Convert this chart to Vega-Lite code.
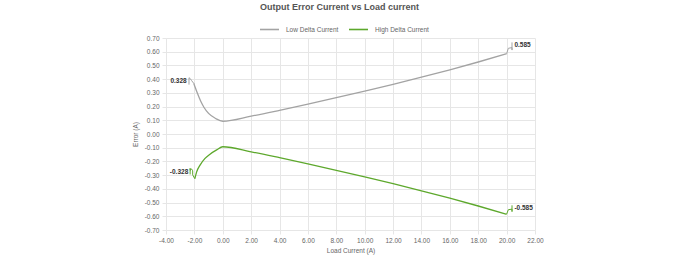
{
  "$schema": "https://vega.github.io/schema/vega-lite/v6.json",
  "width": 369,
  "height": 192,
  "autosize": {"type": "none"},
  "padding": {"left": 166, "top": 38, "right": 145, "bottom": 30},
  "background": "white",
  "config": {
    "font": "Liberation Sans",
    "locale": {"number": {"decimal": ".", "thousands": ",", "grouping": [3], "currency": ["$", ""], "minus": "-"}},
    "view": {"stroke": null},
    "axis": {
      "labelFont": "Liberation Sans",
      "labelFontSize": 6.5,
      "labelColor": "#666",
      "labelOverlap": false,
      "labelFlush": false,
      "titleFont": "Liberation Sans",
      "titleFontSize": 6.5,
      "titleFontWeight": "normal",
      "titleColor": "#666",
      "gridColor": "#e6e6e6",
      "tickColor": "#e6e6e6",
      "domainColor": "#e6e6e6",
      "tickSize": 4
    }
  },
  "title": {
    "text": "Output Error Current vs Load current",
    "fontSize": 9,
    "fontWeight": "bold",
    "color": "#555",
    "font": "Liberation Sans",
    "anchor": "middle",
    "dx": -11,
    "offset": 7
  },
  "datasets": {
    "series": [
      {"series": "Low Delta Current", "x": -2.05, "y": 0.37},
      {"series": "Low Delta Current", "x": -1.8, "y": 0.30},
      {"series": "Low Delta Current", "x": -1.56, "y": 0.24},
      {"series": "Low Delta Current", "x": -1.33, "y": 0.195},
      {"series": "Low Delta Current", "x": -1.0, "y": 0.15},
      {"series": "Low Delta Current", "x": -0.5, "y": 0.113},
      {"series": "Low Delta Current", "x": 0.0, "y": 0.093},
      {"series": "Low Delta Current", "x": 2, "y": 0.13},
      {"series": "Low Delta Current", "x": 4, "y": 0.173},
      {"series": "Low Delta Current", "x": 6, "y": 0.218},
      {"series": "Low Delta Current", "x": 8, "y": 0.265},
      {"series": "Low Delta Current", "x": 10, "y": 0.313},
      {"series": "Low Delta Current", "x": 12, "y": 0.362},
      {"series": "Low Delta Current", "x": 14, "y": 0.414},
      {"series": "Low Delta Current", "x": 16, "y": 0.468},
      {"series": "Low Delta Current", "x": 18, "y": 0.525},
      {"series": "Low Delta Current", "x": 20, "y": 0.585},
      {"series": "High Delta Current", "x": -1.97, "y": -0.326},
      {"series": "High Delta Current", "x": -1.84, "y": -0.276},
      {"series": "High Delta Current", "x": -1.6, "y": -0.227},
      {"series": "High Delta Current", "x": -1.25, "y": -0.178},
      {"series": "High Delta Current", "x": -0.9, "y": -0.147},
      {"series": "High Delta Current", "x": -0.43, "y": -0.116},
      {"series": "High Delta Current", "x": 0.0, "y": -0.093},
      {"series": "High Delta Current", "x": 2, "y": -0.13},
      {"series": "High Delta Current", "x": 4, "y": -0.173},
      {"series": "High Delta Current", "x": 6, "y": -0.218},
      {"series": "High Delta Current", "x": 8, "y": -0.265},
      {"series": "High Delta Current", "x": 10, "y": -0.313},
      {"series": "High Delta Current", "x": 12, "y": -0.362},
      {"series": "High Delta Current", "x": 14, "y": -0.414},
      {"series": "High Delta Current", "x": 16, "y": -0.468},
      {"series": "High Delta Current", "x": 18, "y": -0.525},
      {"series": "High Delta Current", "x": 20, "y": -0.585}
    ],
    "leaders": [
      {"id": "a", "series": "Low Delta Current", "i": 0, "x": -2.38, "y": 0.36},
      {"id": "a", "series": "Low Delta Current", "i": 1, "x": -2.38, "y": 0.41},
      {"id": "a", "series": "Low Delta Current", "i": 2, "x": -2.3, "y": 0.405},
      {"id": "a", "series": "Low Delta Current", "i": 3, "x": -2.2, "y": 0.39},
      {"id": "a", "series": "Low Delta Current", "i": 4, "x": -2.05, "y": 0.37},
      {"id": "b", "series": "High Delta Current", "i": 0, "x": -2.3, "y": -0.295},
      {"id": "b", "series": "High Delta Current", "i": 1, "x": -2.3, "y": -0.25},
      {"id": "b", "series": "High Delta Current", "i": 2, "x": -2.3, "y": -0.265},
      {"id": "b", "series": "High Delta Current", "i": 3, "x": -2.2, "y": -0.255},
      {"id": "b", "series": "High Delta Current", "i": 4, "x": -2.12, "y": -0.268},
      {"id": "b", "series": "High Delta Current", "i": 5, "x": -2.12, "y": -0.298},
      {"id": "b", "series": "High Delta Current", "i": 6, "x": -1.97, "y": -0.326},
      {"id": "c", "series": "Low Delta Current", "i": 0, "x": 20.0, "y": 0.585},
      {"id": "c", "series": "Low Delta Current", "i": 1, "x": 20.12, "y": 0.625},
      {"id": "c", "series": "Low Delta Current", "i": 2, "x": 20.38, "y": 0.63},
      {"id": "c", "series": "Low Delta Current", "i": 3, "x": 20.38, "y": 0.612},
      {"id": "c", "series": "Low Delta Current", "i": 4, "x": 20.38, "y": 0.668},
      {"id": "d", "series": "High Delta Current", "i": 0, "x": 20.0, "y": -0.585},
      {"id": "d", "series": "High Delta Current", "i": 1, "x": 20.12, "y": -0.552},
      {"id": "d", "series": "High Delta Current", "i": 2, "x": 20.38, "y": -0.548},
      {"id": "d", "series": "High Delta Current", "i": 3, "x": 20.38, "y": -0.566},
      {"id": "d", "series": "High Delta Current", "i": 4, "x": 20.38, "y": -0.52}
    ],
    "labelsLeft": [
      {"text": "0.328", "x": -2.54, "y": 0.386},
      {"text": "-0.328", "x": -2.43, "y": -0.276}
    ],
    "labelsRight": [
      {"text": "0.585", "x": 20.55, "y": 0.647},
      {"text": "-0.585", "x": 20.55, "y": -0.54}
    ]
  },
  "layer": [
    {
      "data": {"name": "series"},
      "mark": {"type": "line", "strokeWidth": 1.3, "interpolate": "monotone"},
      "encoding": {
        "x": {
          "field": "x", "type": "quantitative",
          "scale": {"domain": [-4, 22], "nice": false, "zero": false},
          "axis": {"values": [-4,-2,0,2,4,6,8,10,12,14,16,18,20,22], "tickCount": 50, "format": ".2f", "title": "Load Current (A)", "labelPadding": 3, "titlePadding": 4, "domain": true}
        },
        "y": {
          "field": "y", "type": "quantitative",
          "scale": {"domain": [-0.7, 0.7], "nice": false, "zero": false},
          "axis": {"values": [-0.7,-0.6,-0.5,-0.4,-0.3,-0.2,-0.1,0,0.1,0.2,0.3,0.4,0.5,0.6,0.7], "tickCount": 50, "format": ".2f", "title": "Error (A)", "labelPadding": 3, "titlePadding": 6, "domain": true}
        },
        "color": {
          "field": "series", "type": "nominal",
          "scale": {"domain": ["Low Delta Current", "High Delta Current"], "range": ["#a3a3a3", "#5da82c"]},
          "legend": {
            "title": null,
            "orient": "none",
            "direction": "horizontal",
            "legendX": 93,
            "legendY": -19,
            "symbolType": "stroke",
            "symbolSize": 360,
            "symbolStrokeWidth": 1.6,
            "labelFontSize": 6.5,
            "labelColor": "#666",
            "labelFont": "Liberation Sans",
            "columnPadding": 6,
            "labelOffset": 6
          }
        }
      }
    },
    {
      "data": {"name": "leaders"},
      "mark": {"type": "line", "strokeWidth": 1},
      "encoding": {
        "x": {"field": "x", "type": "quantitative"},
        "y": {"field": "y", "type": "quantitative"},
        "detail": {"field": "id"},
        "order": {"field": "i"},
        "color": {"field": "series", "type": "nominal", "legend": null}
      }
    },
    {
      "data": {"name": "labelsLeft"},
      "mark": {"type": "text", "fontSize": 6.5, "fontWeight": "bold", "color": "#333", "baseline": "middle", "align": "right", "font": "Liberation Sans"},
      "encoding": {
        "x": {"field": "x", "type": "quantitative"},
        "y": {"field": "y", "type": "quantitative"},
        "text": {"field": "text"}
      }
    },
    {
      "data": {"name": "labelsRight"},
      "mark": {"type": "text", "fontSize": 6.5, "fontWeight": "bold", "color": "#333", "baseline": "middle", "align": "left", "font": "Liberation Sans"},
      "encoding": {
        "x": {"field": "x", "type": "quantitative"},
        "y": {"field": "y", "type": "quantitative"},
        "text": {"field": "text"}
      }
    }
  ]
}
